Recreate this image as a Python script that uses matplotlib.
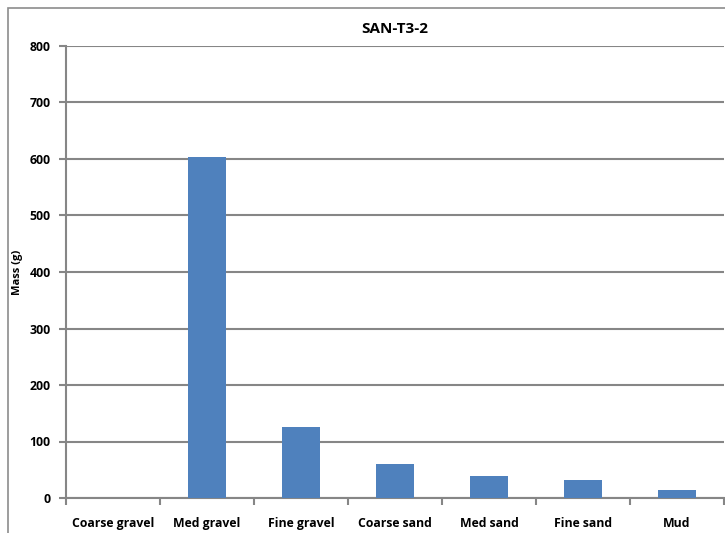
import matplotlib.pyplot as plt
import numpy as np
from matplotlib.patches import Rectangle

categories = ['Coarse gravel', 'Med gravel', 'Fine gravel', 'Coarse sand',
              'Med sand', 'Fine sand', 'Mud']
mass = [0, 603, 126, 60, 39, 32, 14]

plt.rcParams['font.family'] = ['Open Sans', 'DejaVu Sans']
plt.rcParams['font.weight'] = 'bold'

fig = plt.figure(figsize=(7.25, 5.33), dpi=100)
# chart area border (Excel style), runs off the right/bottom edges
fig.patches.append(Rectangle((8 / 725, -0.1), 1.0, 1 - 8 / 533 + 0.1,
                             transform=fig.transFigure, fill=False,
                             edgecolor='#8c8c8c', linewidth=1.2))

ax = fig.add_axes([66 / 725, 35 / 533, 658 / 725, 452 / 533])

x = np.arange(len(categories))
ax.bar(x, mass, 0.4, color='#4f81bd', zorder=3)

ax.set_xlim(-0.5, len(categories) - 0.5)
ax.set_ylim(0, 800)
ax.set_yticks(np.arange(0, 801, 100))
ax.yaxis.grid(True, color='#868686', linewidth=1.5, zorder=0)

# category labels centered, tick marks at boundaries
ax.set_xticks(x)
ax.set_xticklabels(categories, fontsize=8.8, fontweight='bold')
ax.tick_params(axis='x', length=0, pad=14)
ax.set_xticks(np.arange(-0.5, len(categories), 1), minor=True)
ax.tick_params(axis='x', which='minor', length=5, width=1.5, color='#868686',
               direction='out')
ax.tick_params(axis='y', length=5, width=1.5, color='#868686', labelsize=8.8,
               pad=6)
for lab in ax.get_yticklabels():
    lab.set_fontweight('bold')

for side in ['top', 'right']:
    ax.spines[side].set_visible(False)
for side in ['left', 'bottom']:
    ax.spines[side].set_color('#868686')
    ax.spines[side].set_linewidth(1.5)

ax.set_ylabel('Mass (g)', fontsize=8, fontweight='bold', labelpad=5)
fig.text(0.5 * (66 + 724) / 725, 1 - 29 / 533, 'SAN-T3-2', ha='center',
         va='center', fontsize=11, fontweight='bold')

fig.savefig('out.png', dpi=100)
